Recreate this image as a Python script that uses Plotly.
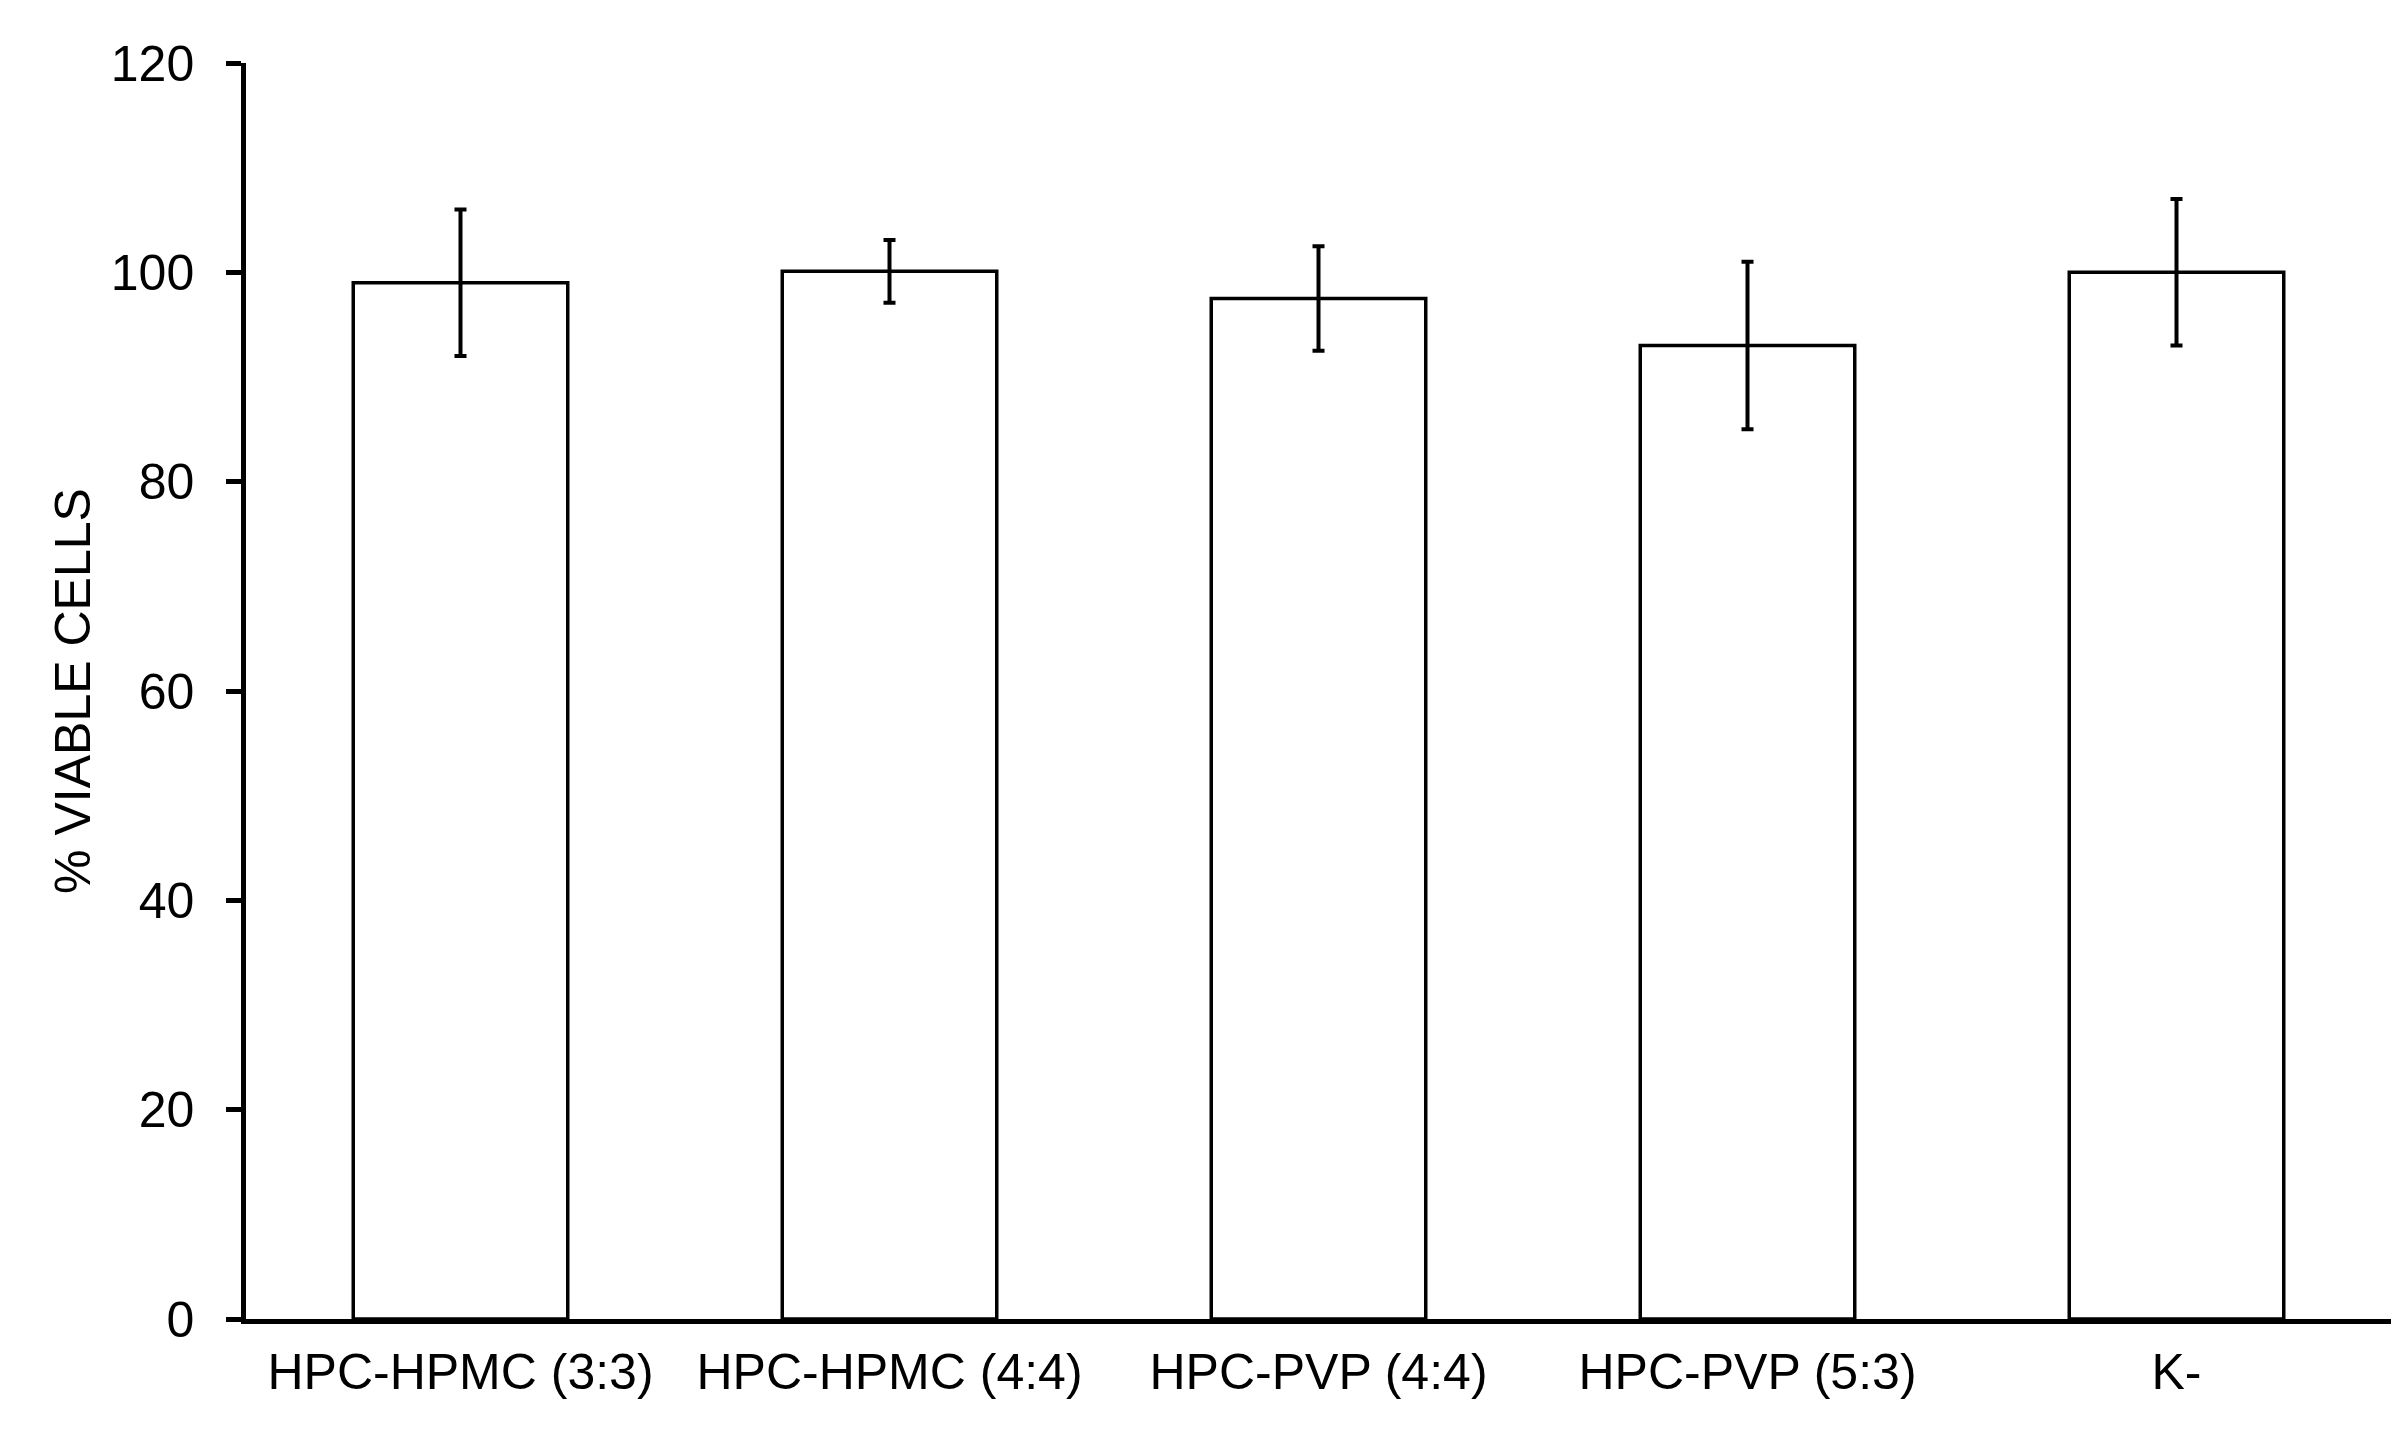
import plotly.graph_objects as go

categories = ["HPC-HPMC (3:3)", "HPC-HPMC (4:4)", "HPC-PVP (4:4)", "HPC-PVP (5:3)", "K-"]
viable = [99.0, 100.1, 97.5, 93.0, 100.0]
err = [7.0, 3.0, 5.0, 8.0, 7.0]
y_ticks = [0, 20, 40, 60, 80, 100, 120]

FONT = "Liberation Sans, Arial, Helvetica, sans-serif"

fig = go.Figure()
fig.add_trace(go.Bar(
    x=list(range(len(categories))),
    y=viable,
    width=0.5,
    marker=dict(color="white", line=dict(color="black", width=3.5)),
    error_y=dict(type="data", array=err, visible=True, color="black", thickness=4, width=6),
))

fig.update_layout(
    width=2404, height=1433,
    paper_bgcolor="white", plot_bgcolor="white",
    margin=dict(l=238, r=21, t=55, b=122, autoexpand=False),
    showlegend=False,
    font=dict(family=FONT, size=50, color="black"),
)
fig.update_xaxes(
    range=[-0.5, 4.5],
    tickmode="array", tickvals=list(range(len(categories))), ticktext=categories,
    showline=True, linecolor="black", linewidth=4.5,
    ticks="", showgrid=False, zeroline=False,
    tickfont=dict(family=FONT, size=50, color="black"),
    ticklabelstandoff=5,
)
fig.update_yaxes(
    range=[0, 120],
    tickmode="array", tickvals=y_ticks, ticktext=[str(v) for v in y_ticks],
    showline=True, linecolor="black", linewidth=4.5,
    ticks="outside", ticklen=15, tickwidth=4.5, tickcolor="black",
    showgrid=False, zeroline=False,
    tickfont=dict(family=FONT, size=50, color="black"),
    ticklabelstandoff=22,
    title=dict(text="% VIABLE CELLS", font=dict(family=FONT, size=50, color="black"), standoff=6),
)

fig.write_html("out.html")
